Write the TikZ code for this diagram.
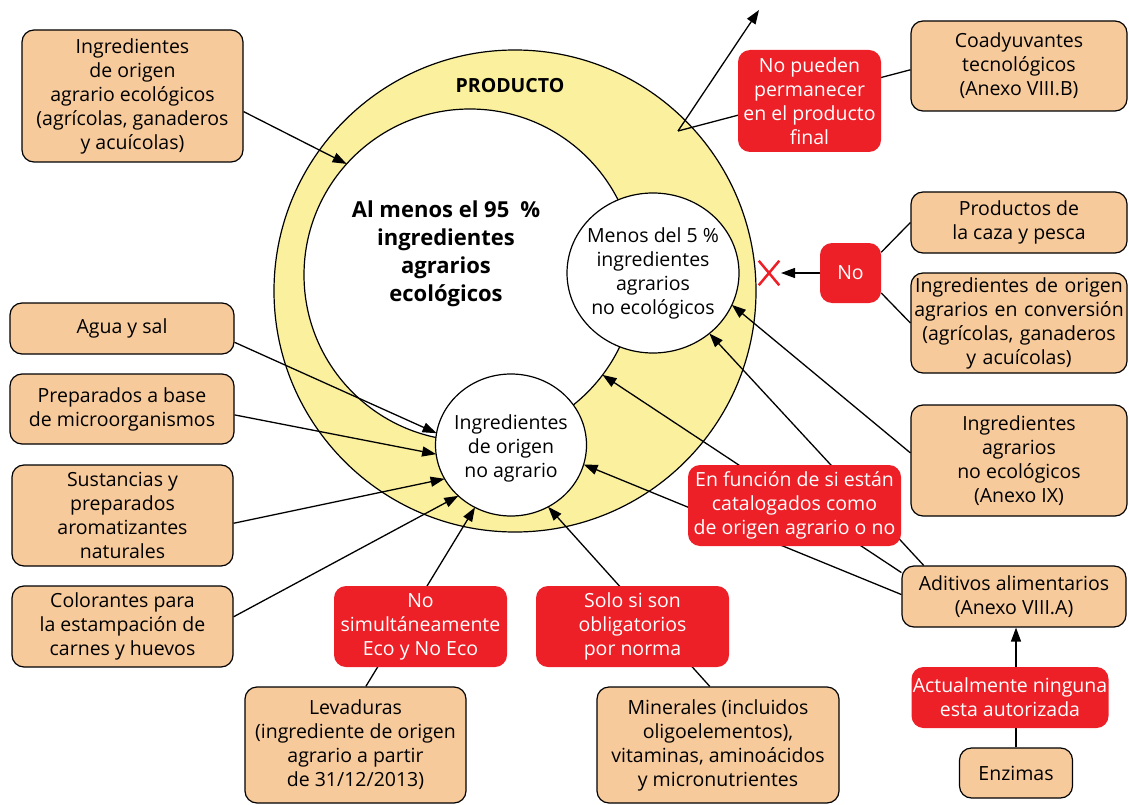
\documentclass[tikz,border=0pt]{standalone}
\usepackage{fontspec}
\setmainfont{Open Sans}
\usetikzlibrary{arrows.meta,shapes.geometric,shapes.misc}
\definecolor{peach}{RGB}{247,202,156}
\definecolor{ringyellow}{RGB}{250,240,158}
\definecolor{alertred}{RGB}{237,31,39}
\begin{document}
\begin{tikzpicture}[x=1pt,y=-1pt,
  txt/.style={font=\fontsize{19.5}{24}\selectfont, align=center, inner sep=0pt},
  box/.style={txt, draw, line width=1.2pt, fill=peach, rounded corners=12pt},
  redbox/.style={txt, fill=alertred, text=white, rounded corners=12pt},
  arr/.style={line width=1.3pt, -{Triangle[length=14pt,width=10pt]}},
  ln/.style={line width=1.3pt},
  disc/.style={draw, line width=1.2pt, inner sep=0pt, outer sep=0pt},
]
\useasboundingbox (0,0) rectangle (1129,805);

% circles
\node[disc, circle, fill=ringyellow, minimum size=482pt] (prod) at (515,291) {};
\node[disc, circle, fill=white, minimum size=332pt] (inner) at (470,275) {};
\node[disc, ellipse, fill=white, minimum width=172pt, minimum height=160pt] (five) at (653,273) {};
\node[disc, ellipse, fill=white, minimum width=151pt, minimum height=142pt] (noag) at (511,445) {};

\node[txt, font=\fontsize{19.5}{24}\bfseries] (prodlbl) at (510,86) {PRODUCTO};
\node[txt, font=\fontsize{22}{28}\bfseries] (innerlbl) at (446,254) {Al menos el 95\enspace\%\\ingredientes\\agrarios\\ecológicos};
\node[txt] (fivelbl) at (653,273) {Menos del 5 \%\\ingredientes\\agrarios\\no ecológicos};
\node[txt] (noaglbl) at (511,448) {Ingredientes\\de origen\\no agrario};

% peach boxes
\node[box, minimum width=221pt, minimum height=132pt] (ecobox) at (132.5,96) {Ingredientes\\de origen\\agrario ecológicos\\(agrícolas, ganaderos\\y acuícolas)};
\node[box, minimum width=224pt, minimum height=51pt] (agua) at (122,328.5) {Agua y sal};
\node[box, minimum width=224pt, minimum height=70pt] (prep) at (122,409) {Preparados a base\\de microorganismos};
\node[box, minimum width=221pt, minimum height=101pt] (sust) at (122.5,515.5) {Sustancias y\\preparados\\aromatizantes\\naturales};
\node[box, minimum width=221pt, minimum height=81pt] (color) at (122.5,626.5) {Colorantes para\\la estampación de\\carnes y huevos};
\node[box, minimum width=221pt, minimum height=116pt] (lev) at (355.5,745) {Levaduras\\(ingrediente de origen\\agrario a partir\\de 31/12/2013)};
\node[box, minimum width=242pt, minimum height=116pt] (mine) at (718,745) {Minerales (incluidos\\oligoelementos),\\vitaminas, aminoácidos\\y micronutrientes};
\node[box, minimum width=216pt, minimum height=90pt] (coad) at (1019,66) {Coadyuvantes\\tecnológicos\\(Anexo VIII.B)};
\node[box, minimum width=216pt, minimum height=61pt] (caza) at (1019,222.5) {Productos de\\la caza y pesca};
\node[box, minimum width=216pt, minimum height=100pt, text width=216pt] (conv) at (1019,323) {Ingredientes de origen\\agrarios en conversión\\(agrícolas, ganaderos\\y acuícolas)};
\node[box, minimum width=216pt, minimum height=111pt] (anexo) at (1019,460.5) {Ingredientes\\agrarios\\no ecológicos\\(Anexo IX)};
\node[box, minimum width=224pt, minimum height=61pt] (adit) at (1014,596.5) {Aditivos alimentarios\\(Anexo VIII.A)};
\node[box, minimum width=113pt, minimum height=50pt] (enz) at (1016,773) {Enzimas};

% connectors
\draw[arr] (ecobox.-8) -- (inner.138);
\draw[arr] (agua.-7.4) -- (noag.171.5);
\draw[arr] (prep.-3.1) -- (noag.187.6);
\draw[arr] (sust.-4.9) -- (noag.207);
\draw[arr] (color.5.9) -- (noag.224);
\draw[arr] (lev.80.7) -- (noag.240);
\draw[arr] (mine.98.8) -- (noag.-59);
\draw[arr] (adit.179.2) -- (noag.-15);
\draw[arr] (adit.168.9) -- (inner.-37.5);
\draw[arr] (adit.161.3) -- (five.-47.4);
\draw[arr] (anexo.176) -- (five.-22.6);
\draw[arr] (enz.north) -- (enz.north |- adit.south);

\coordinate (kink) at (678,131);
\coordinate (away) at (759,10);
\draw[ln] (coad.182.6) -- (kink);
\draw[arr] (kink) -- (away);

% red labels
\node[redbox, minimum width=143pt, minimum height=102pt] (perm) at (809.5,101) {No pueden\\permanecer\\en el producto\\final};
\node[redbox, minimum width=61pt, minimum height=60pt] (no) at (850.5,273) {No};
\node[redbox, minimum width=213pt, minimum height=81pt] (func) at (794.5,505.5) {En función de si están\\catalogados como\\de origen agrario o no};
\node[redbox, minimum width=173pt, minimum height=81pt] (simul) at (420.5,626.5) {No\\simultáneamente\\Eco y No Eco};
\node[redbox, minimum width=193pt, minimum height=81pt] (solo) at (632.5,626.5) {Solo si son\\obligatorios\\por norma};
\node[redbox, minimum width=197pt, minimum height=61pt] (actual) at (1010,697.5) {Actualmente ninguna\\esta autorizada};

\node[cross out, draw=alertred, line width=2.5pt, minimum width=18pt, minimum height=22pt, inner sep=0pt] (xm) at (769,273) {};
\coordinate (notip) at (781,273);
\draw[ln] (no.34.5) -- (caza.west);
\draw[ln] (no.-33.3) -- (conv.west);
\draw[arr] (no.west) -- (notip);
\end{tikzpicture}
\end{document}
